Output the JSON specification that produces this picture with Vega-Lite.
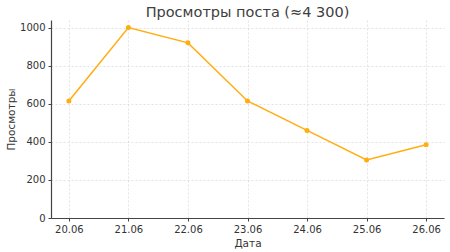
{
  "$schema": "https://vega.github.io/schema/vega-lite/v6.json",
  "autosize": {"type": "none"},
  "width": 393,
  "height": 198,
  "padding": {"left": 51, "top": 20, "right": 6, "bottom": 34},
  "background": "white",
  "title": {"text": "Просмотры поста (≈4 300)", "font": "DejaVu Sans", "fontSize": 14.5, "fontWeight": "normal", "color": "#404040", "anchor": "middle", "offset": 0},
  "data": {"values": [
    {"date": "20.06", "views": 615},
    {"date": "21.06", "views": 1000},
    {"date": "22.06", "views": 920},
    {"date": "23.06", "views": 615},
    {"date": "24.06", "views": 460},
    {"date": "25.06", "views": 305},
    {"date": "26.06", "views": 385}
  ]},
  "config": {
    "view": {"stroke": null},
    "axis": {"labelFont": "DejaVu Sans", "titleFont": "DejaVu Sans", "labelFontSize": 10, "titleFontSize": 10.5, "titleFontWeight": "normal", "labelColor": "#333333", "titleColor": "#333333", "gridColor": "#d0d0d0", "gridDash": [2, 2], "gridWidth": 0.6, "domainColor": "#444444", "domainWidth": 1.2, "tickColor": "#444444", "tickSize": 3}
  },
  "mark": {"type": "line", "color": "#FFAD0F", "strokeWidth": 1.5, "point": {"filled": true, "size": 25, "color": "#FFAD0F"}},
  "encoding": {
    "x": {"field": "date", "type": "ordinal", "sort": null, "scale": {"type": "point", "padding": 0.3}, "axis": {"title": "Дата", "labelAngle": 0, "grid": true, "titlePadding": 4, "labelPadding": 3}},
    "y": {"field": "views", "type": "quantitative", "scale": {"domain": [0, 1040], "nice": false}, "axis": {"title": "Просмотры", "format": "d", "values": [0, 200, 400, 600, 800, 1000], "grid": true, "titlePadding": 3, "labelPadding": 3}}
  }
}
